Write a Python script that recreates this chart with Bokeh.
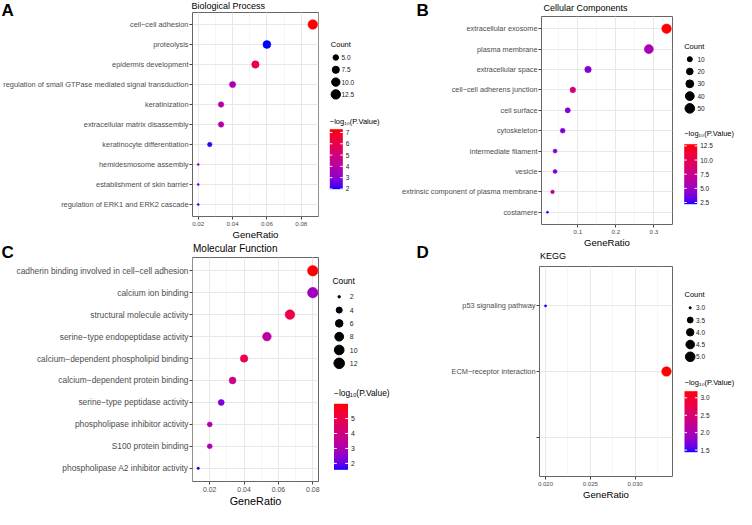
import numpy as np
from bokeh.plotting import figure
from bokeh.layouts import row, column
from bokeh.models import (ColumnDataSource, Range1d, FactorRange, LinearColorMapper,
                          SingleIntervalTicker, PrintfTickFormatter, Label)
from bokeh.transform import transform
from bokeh.core.properties import value
from bokeh.embed import file_html
from bokeh.resources import INLINE

FONT = "Liberation Sans"

# ---------------- data ----------------
bp_terms = ["cell−cell adhesion", "proteolysis", "epidermis development",
            "regulation of small GTPase mediated signal transduction", "keratinization",
            "extracellular matrix disassembly", "keratinocyte differentiation",
            "hemidesmosome assembly", "establishment of skin barrier",
            "regulation of ERK1 and ERK2 cascade"]
bp_ratio = [0.0867, 0.0600, 0.0533, 0.0400, 0.0333, 0.0333, 0.0267, 0.0200, 0.0200, 0.0200]
bp_count = [13, 9, 8, 6, 5, 5, 4, 3, 3, 3]
bp_logp = [7.29, 1.98, 6.2, 3.7, 3.9, 3.8, 2.1, 3.0, 2.6, 2.2]
bp_size_breaks = [5.0, 7.5, 10.0, 12.5]
bp_size_labels = ["5.0", "7.5", "10.0", "12.5"]
bp_color_ticks = [2, 3, 4, 5, 6, 7]
bp_color_labels = ["2", "3", "4", "5", "6", "7"]

cc_terms = ["extracellular exosome", "plasma membrane", "extracellular space",
            "cell−cell adherens junction", "cell surface", "cytoskeleton",
            "intermediate filament", "vesicle", "extrinsic component of plasma membrane",
            "costamere"]
cc_ratio = [0.3333, 0.2867, 0.1267, 0.0867, 0.0733, 0.0600, 0.0400, 0.0400, 0.0333, 0.0200]
cc_count = [50, 43, 19, 13, 11, 9, 6, 6, 5, 3]
cc_logp = [12.8, 5.5, 4.1, 8.1, 3.9, 3.7, 3.9, 3.8, 6.3, 2.2]
cc_size_breaks = [10, 20, 30, 40, 50]
cc_size_labels = ["10", "20", "30", "40", "50"]
cc_color_ticks = [2.5, 5.0, 7.5, 10.0, 12.5]
cc_color_labels = ["2.5", "5.0", "7.5", "10.0", "12.5"]

mf_terms = ["cadherin binding involved in cell−cell adhesion", "calcium ion binding",
            "structural molecule activity", "serine−type endopeptidase activity",
            "calcium−dependent phospholipid binding", "calcium−dependent protein binding",
            "serine−type peptidase activity", "phospholipase inhibitor activity",
            "S100 protein binding", "phospholipase A2 inhibitor activity"]
mf_ratio = [0.0800, 0.0800, 0.0667, 0.0533, 0.0400, 0.0333, 0.0267, 0.0200, 0.0200, 0.0133]
mf_count = [12, 12, 10, 8, 6, 5, 4, 3, 3, 2]
mf_logp = [5.99, 2.8, 5.05, 3.4, 5.0, 3.8, 2.3, 3.0, 3.0, 1.57]
mf_size_breaks = [2, 4, 6, 8, 10, 12]
mf_size_labels = ["2", "4", "6", "8", "10", "12"]
mf_color_ticks = [2, 3, 4, 5]
mf_color_labels = ["2", "3", "4", "5"]

kegg_terms = ["p53 signaling pathway", "ECM−receptor interaction", " "]
kegg_ratio = [0.0200, 0.0335, float("nan")]
kegg_count = [3, 5, float("nan")]
kegg_logp = [1.44, 3.19, float("nan")]
kegg_size_breaks = [3.0, 3.5, 4.0, 4.5, 5.0]
kegg_size_labels = ["3.0", "3.5", "4.0", "4.5", "5.0"]
kegg_color_ticks = [1.5, 2.0, 2.5, 3.0]
kegg_color_labels = ["1.5", "2.0", "2.5", "3.0"]

CB_TITLE = "−log₁₀(P.Value)"

# ---------------- colour gradient (blue -> red, interpolated in CIELAB) ----------------
_M = np.array([[0.4124564, 0.3575761, 0.1804375],
               [0.2126729, 0.7151522, 0.0721750],
               [0.0193339, 0.1191920, 0.9503041]])
_W = np.array([0.95047, 1.0, 1.08883])


def rgb2lab(rgb):
    c = np.asarray(rgb, float) / 255.0
    lin = np.where(c <= 0.04045, c / 12.92, ((c + 0.055) / 1.055) ** 2.4)
    xyz = _M @ lin / _W
    d = 6 / 29
    f = np.where(xyz > d ** 3, np.cbrt(xyz), xyz / (3 * d * d) + 4 / 29)
    return np.array([116 * f[1] - 16, 500 * (f[0] - f[1]), 200 * (f[1] - f[2])])


def lab2hex(lab):
    L, a, b = lab
    fy = (L + 16) / 116
    f = np.array([fy + a / 500, fy, fy - b / 200])
    d = 6 / 29
    xyz = np.where(f > d, f ** 3, 3 * d * d * (f - 4 / 29)) * _W
    lin = np.clip(np.linalg.solve(_M, xyz), 0, 1)
    s = np.where(lin <= 0.0031308, 12.92 * lin, 1.055 * lin ** (1 / 2.4) - 0.055)
    r, g, bb = np.clip(np.round(s * 255), 0, 255).astype(int)
    return "#%02x%02x%02x" % (r, g, bb)


_lo, _hi = rgb2lab([0, 0, 255]), rgb2lab([255, 0, 0])
PALETTE = [lab2hex(_lo + (_hi - _lo) * t) for t in np.linspace(0, 1, 256)]


def point_diam(v, vmin, vmax, scale):
    t = np.clip((np.asarray(v, float) - vmin) / (vmax - vmin), 0, 1)
    return scale * (2.2 + 7.4 * np.sqrt(t))


def blank_fig(w, h, transparent=False):
    p = figure(width=w, height=h, x_range=Range1d(0, w), y_range=Range1d(0, h),
               min_border=0, min_border_left=0, min_border_right=0, min_border_top=0,
               min_border_bottom=0, x_axis_location=None, y_axis_location=None, title=None,
               frame_align=False, output_backend="svg", toolbar_location=None)
    p.grid.visible = False
    p.outline_line_color = None
    p.background_fill_color = None if transparent else "white"
    p.border_fill_color = None if transparent else "white"
    return p


def header(box, items, overlap=0):
    """items: (page_x, page_y_top, text, size, bold)"""
    x0, y0, w, h = box
    p = blank_fig(w, h, transparent=overlap > 0)
    if overlap:
        p.margin = (-overlap, 0, 0, 0)
    for (px, py, text, size, bold) in items:
        p.add_layout(Label(x=px - x0, y=y0 + h - py, text=text, text_font=FONT,
                           text_font_size=f"{size}px",
                           text_font_style="bold" if bold else "normal",
                           text_color="black", text_baseline="top", text_align="left"))
    return p


def main_panel(terms, ratio, count, logp, mapper, box, frame, xstep, xfmt,
               ysize, tsize, lsize, dscale, overlap=0):
    n = len(terms)
    r = np.asarray(ratio, float)
    lo, hi = np.nanmin(r), np.nanmax(r)
    pad = 0.05 * (hi - lo)
    cnt = np.asarray(count, float)
    src = ColumnDataSource(dict(term=terms, ratio=r, count=cnt,
                                logp=np.asarray(logp, float),
                                diam=point_diam(cnt, np.nanmin(cnt), np.nanmax(cnt), dscale)))
    x0, y0, w, h = box
    L, T, R, B = frame
    p = figure(width=w, height=h, x_range=Range1d(lo - pad, hi + pad),
               y_range=FactorRange(factors=list(reversed(terms)), range_padding=0.2 / n),
               min_border_left=L - x0, min_border_right=x0 + w - R,
               min_border_top=T - y0, min_border_bottom=y0 + h - B, title=None,
               frame_align=False, output_backend="svg", toolbar_location=None)
    if overlap:
        p.margin = (-overlap, 0, 0, 0)
    p.background_fill_color = "white"
    p.border_fill_color = None
    p.outline_line_color = "#666666"
    p.outline_line_width = 1
    p.xaxis.ticker = SingleIntervalTicker(interval=xstep, num_minor_ticks=2)
    p.xaxis.formatter = PrintfTickFormatter(format=xfmt)
    p.xgrid.grid_line_color = "#E8E8E8"
    p.xgrid.grid_line_width = 1
    p.xgrid.minor_grid_line_color = "#F0F0F0"
    p.xgrid.minor_grid_line_width = 0.6
    p.ygrid.grid_line_color = "#E8E8E8"
    p.ygrid.grid_line_width = 1
    p.axis.axis_line_color = None
    p.axis.major_tick_line_color = "#444444"
    p.axis.major_tick_out = 3
    p.axis.major_tick_in = 0
    p.axis.minor_tick_line_color = None
    p.axis.major_label_text_font = FONT
    p.axis.major_label_text_color = "#4D4D4D"
    p.axis.major_label_standoff = 1
    p.yaxis.major_label_text_font_size = f"{ysize}px"
    p.xaxis.major_label_text_font_size = f"{tsize}px"
    p.xaxis.axis_label = "GeneRatio"
    p.xaxis.axis_label_text_font = FONT
    p.xaxis.axis_label_text_font_size = f"{lsize}px"
    p.xaxis.axis_label_text_font_style = "normal"
    p.xaxis.axis_label_text_color = "black"
    p.xaxis.axis_label_standoff = 0
    col = transform("logp", mapper)
    p.scatter("ratio", "term", size="diam", source=src, fill_color=col, line_color=col,
              line_width=0.5)
    return p


def legend_panel(box, breaks, blabels, count, dscale, mapper, cticks, clabels,
                 count_xy, key_x, key_y0, key_dy, lab_x, bar_x, bar_bottom, bar_w, bar_h,
                 cb_title_y, title_size, lab_size):
    x0, y0, w, h = box
    p = blank_fig(w, h)

    def lx(v):
        return v - x0

    def ly(v):
        return y0 + h - v

    # --- size legend ---
    cnt = np.asarray(count, float)
    nb = len(breaks)
    ys = ly(key_y0) - np.arange(nb) * key_dy
    src = ColumnDataSource(dict(
        x=np.full(nb, lx(key_x)), tx=np.full(nb, lx(lab_x)), y=ys,
        d=point_diam(breaks, np.nanmin(cnt), np.nanmax(cnt), dscale), lab=blabels))
    p.scatter("x", "y", size="d", source=src, fill_color="black", line_color="black")
    p.text("tx", "y", text="lab", source=src, text_font=value(FONT),
           text_font_size=value(f"{lab_size}px"), text_color="#222222",
           text_baseline="middle", text_align="left")
    p.add_layout(Label(x=lx(count_xy[0]), y=ly(count_xy[1]), text="Count", text_font=FONT,
                       text_font_size=f"{title_size}px", text_color="black",
                       text_baseline="middle", text_align="left"))

    # --- colour bar (gradient image through the same colour mapper) ---
    lo, hi = mapper.low, mapper.high
    bx, bb = lx(bar_x), ly(bar_bottom)
    grad = np.linspace(lo, hi, 200).reshape(-1, 1)
    p.image(image=[grad], x=bx, y=bb, dw=bar_w, dh=bar_h, color_mapper=mapper)
    tv = np.asarray(cticks, float)
    ty = bb + (tv - lo) / (hi - lo) * bar_h
    tsrc = ColumnDataSource(dict(y=ty, lab=clabels,
                                 xa0=np.full(len(tv), bx), xa1=np.full(len(tv), bx + bar_w * 0.2),
                                 xb0=np.full(len(tv), bx + bar_w * 0.8),
                                 xb1=np.full(len(tv), bx + bar_w),
                                 tx=np.full(len(tv), bx + bar_w + 3)))
    p.segment("xa0", "y", "xa1", "y", source=tsrc, line_color="white", line_width=1)
    p.segment("xb0", "y", "xb1", "y", source=tsrc, line_color="white", line_width=1)
    p.text("tx", "y", text="lab", source=tsrc, text_font=value(FONT),
           text_font_size=value(f"{lab_size}px"), text_color="#222222",
           text_baseline="middle", text_align="left")
    p.add_layout(Label(x=bx, y=ly(cb_title_y), text=CB_TITLE, text_font=FONT,
                       text_font_size=f"{title_size}px", text_color="black",
                       text_baseline="middle", text_align="left"))
    return p


def mapper_for(logp):
    v = np.asarray(logp, float)
    return LinearColorMapper(palette=PALETTE, low=np.nanmin(v), high=np.nanmax(v),
                             nan_color=(0, 0, 0, 0))


# ---------------- panels ----------------
mA, mB, mC, mD = (mapper_for(bp_logp), mapper_for(cc_logp),
                  mapper_for(mf_logp), mapper_for(kegg_logp))

# left column (x 8..335):  hA 8..29 | pA 19..250 | hC 250..270 | pC 264..517
hA = header((8, 8, 327, 21), [(9, 8, "A", 17, True), (199, 8, "Biological Process", 9, False)])
pA = main_panel(bp_terms, bp_ratio, bp_count, bp_logp, mA, (8, 19, 327, 231),
                (198, 20, 326, 228), 0.02, "%.2f", 7.4, 6.2, 9.6, 1.0, overlap=10)
hC = header((8, 250, 327, 20), [(9, 250, "C", 17, True), (200.5, 250, "Molecular Function", 10, False)])
pC = main_panel(mf_terms, mf_ratio, mf_count, mf_logp, mC, (8, 264, 327, 253),
                (200, 265, 326, 499), 0.02, "%.2f", 8.4, 6.9, 10.8, 1.1, overlap=6)

# right column (x 407..686):  hB 8..29 | pB 23..258 | hD 250..275 | pD 273..517
hB = header((407, 8, 279, 21), [(424, 8, "B", 17, True), (551, 10, "Cellular Components", 9, False)])
pB = main_panel(cc_terms, cc_ratio, cc_count, cc_logp, mB, (407, 23, 279, 235),
                (549, 24, 680, 237), 0.1, "%.1f", 7.3, 6.2, 9.6, 1.0, overlap=6)
hD = header((407, 250, 279, 25), [(424, 250, "D", 17, True), (547.5, 258.5, "KEGG", 9, False)],
            overlap=8)
pD = main_panel(kegg_terms, kegg_ratio, kegg_count, kegg_logp, mD, (407, 273, 279, 244),
                (547, 274, 680, 484), 0.005, "%.3f", 7.4, 6.0, 9.6, 1.0, overlap=2)

# legends
lA = legend_panel((335, 8, 72, 254), bp_size_breaks, bp_size_labels, bp_count, 1.0, mA,
                  bp_color_ticks, bp_color_labels, (338.3, 52.3), 343.3, 65.0, 12.3, 349.0,
                  337.3, 196.7, 13, 60, 129.3, 7.5, 6.5)
lB = legend_panel((686, 8, 64, 254), cc_size_breaks, cc_size_labels, cc_count, 1.0, mB,
                  cc_color_ticks, cc_color_labels, (691.7, 54.0), 697.3, 66.7, 12.3, 705.0,
                  691.7, 211.7, 13, 60, 141.0, 7.5, 6.5)
lC = legend_panel((335, 262, 72, 255), mf_size_breaks, mf_size_labels, mf_count, 1.1, mC,
                  mf_color_ticks, mf_color_labels, (340.0, 288.7), 346.7, 304.3, 13.3, 357.3,
                  341.5, 477.3, 14, 66, 400.3, 8.4, 6.9)
lD = legend_panel((686, 262, 64, 255), kegg_size_breaks, kegg_size_labels, kegg_count, 1.0, mD,
                  kegg_color_ticks, kegg_color_labels, (692.0, 302.0), 697.7, 315.3, 12.25, 703.5,
                  692.0, 459.7, 13, 61, 390.3, 7.5, 6.5)

layout = row(column(hA, pA, hC, pC), column(lA, lC), column(hB, pB, hD, pD), column(lB, lD))

with open("out.html", "w") as f:
    f.write(file_html(layout, INLINE))
